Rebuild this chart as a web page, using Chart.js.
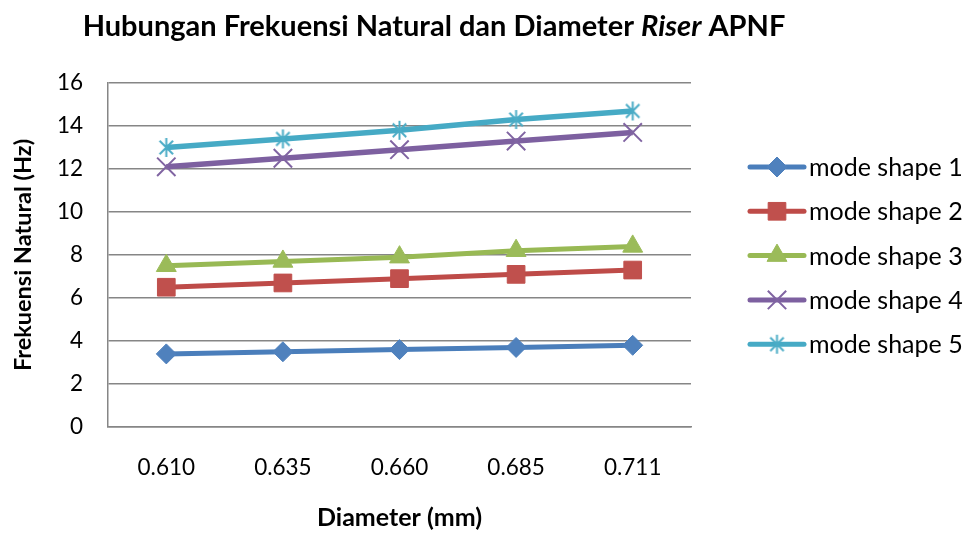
<!DOCTYPE html>
<html>
<head>
<meta charset="utf-8">
<title>Hubungan Frekuensi Natural dan Diameter Riser APNF</title>
<script src="https://cdn.jsdelivr.net/npm/chart.js@4.4.1/dist/chart.umd.min.js"></script>
<style>
  html, body { margin: 0; padding: 0; background: #ffffff; }
  #wrap { width: 966px; height: 533px; position: relative; }
</style>
</head>
<body>
<div id="wrap"><canvas id="chart" width="966" height="533"></canvas></div>
<script>
// Riser diameter categories (mm)
const diameters = ['0.610', '0.635', '0.660', '0.685', '0.711'];

// Natural frequency (Hz) for each mode shape
const mode1 = [3.4, 3.5, 3.6, 3.7, 3.8];
const mode2 = [6.5, 6.7, 6.9, 7.1, 7.3];
const mode3 = [7.5, 7.7, 7.9, 8.2, 8.4];
const mode4 = [12.1, 12.5, 12.9, 13.3, 13.7];
const mode5 = [13.0, 13.4, 13.8, 14.3, 14.7];

const seriesNames = ['mode shape 1', 'mode shape 2', 'mode shape 3', 'mode shape 4', 'mode shape 5'];

// Frequency axis range
const yMin = 0;
const yMax = 16;
const yStep = 2;

const FONT = "Lato, 'Open Sans', 'Liberation Sans', sans-serif";

// Asterisk-style marker: an X with a vertical stroke through it
function starMarker(color, size, width) {
  const c = document.createElement('canvas');
  c.width = size; c.height = size;
  const g = c.getContext('2d');
  g.strokeStyle = color;
  g.lineWidth = width;
  const m = size / 2, r = size / 2 - 1;
  const d = r * Math.SQRT1_2;
  g.beginPath();
  g.moveTo(m - d, m - d); g.lineTo(m + d, m + d);
  g.moveTo(m + d, m - d); g.lineTo(m - d, m + d);
  g.moveTo(m, m - r); g.lineTo(m, m + r);
  g.stroke();
  return c;
}

const styles = [
  { line: '#4A7EBB', point: '#4F81BD', pointStyle: 'rectRot', radius: 10, pbw: 1 },
  { line: '#BE4B48', point: '#C0504D', pointStyle: 'rect', radius: 12.5, pbw: 1 },
  { line: '#98B954', point: '#9BBB59', pointStyle: 'triangle', radius: 11.5, pbw: 1 },
  { line: '#7D60A0', point: '#8064A2', pointStyle: 'crossRot', radius: 13, pbw: 2 },
  { line: '#46AAC5', point: '#4BACC6', pointStyle: starMarker('#4BACC6', 21, 2), radius: 10, pbw: 2 }
];

const seriesValues = [mode1, mode2, mode3, mode4, mode5];

const datasets = seriesValues.map((vals, i) => ({
  label: seriesNames[i],
  data: vals,
  borderColor: styles[i].line,
  backgroundColor: styles[i].point,
  borderWidth: i >= 3 ? 5.5 : 5,
  pointStyle: styles[i].pointStyle,
  pointRadius: styles[i].radius,
  pointHoverRadius: styles[i].radius,
  pointBackgroundColor: styles[i].point,
  pointBorderColor: styles[i].point,
  pointBorderWidth: styles[i].pbw,
  tension: 0,
  fill: false,
  order: seriesValues.length - 1 - i
}));

// Title with the italic word, drawn onto the canvas
const titlePlugin = {
  id: 'mixedTitle',
  afterDraw(chart) {
    const ctx = chart.ctx;
    const size = 29;
    const parts = [
      { t: 'Hubungan Frekuensi Natural dan Diameter ', f: 'bold ' + size + 'px ' + FONT },
      { t: 'Riser', f: 'italic bold ' + size + 'px ' + FONT },
      { t: ' APNF', f: 'bold ' + size + 'px ' + FONT }
    ];
    ctx.save();
    let total = 0;
    parts.forEach(p => { ctx.font = p.f; p.w = ctx.measureText(p.t).width; total += p.w; });
    let x = 434 - total / 2;
    ctx.fillStyle = '#000000';
    ctx.textBaseline = 'alphabetic';
    parts.forEach(p => { ctx.font = p.f; ctx.fillText(p.t, x, 36); x += p.w; });
    ctx.restore();
  }
};

// Legend: line sample with marker, then label
const legendPlugin = {
  id: 'lineLegend',
  afterDraw(chart) {
    const ctx = chart.ctx;
    const x0 = 750, x1 = 804, xm = 777, tx = 809;
    const y0 = 167, dy = 44.3;
    ctx.save();
    chart.data.datasets.forEach((ds, i) => {
      const y = y0 + i * dy;
      ctx.strokeStyle = ds.borderColor;
      ctx.lineWidth = 5;
      ctx.lineCap = 'round';
      ctx.beginPath();
      ctx.moveTo(x0, y); ctx.lineTo(x1, y);
      ctx.stroke();
      ctx.lineCap = 'butt';
      ctx.fillStyle = ds.pointBackgroundColor;
      ctx.strokeStyle = ds.pointBorderColor;
      ctx.lineWidth = ds.pointBorderWidth;
      Chart.helpers.drawPoint(ctx, {
        pointStyle: ds.pointStyle,
        rotation: 0,
        radius: ds.pointRadius,
        borderWidth: ds.pointBorderWidth
      }, xm, y);
      ctx.fillStyle = '#000000';
      ctx.font = '25px ' + FONT;
      ctx.textBaseline = 'middle';
      ctx.textAlign = 'left';
      ctx.fillText(ds.label, tx, y + 1);
    });
    ctx.restore();
  }
};

new Chart(document.getElementById('chart'), {
  type: 'line',
  data: { labels: diameters, datasets: datasets },
  plugins: [titlePlugin, legendPlugin],
  options: {
    responsive: false,
    animation: false,
    events: [],
    layout: { padding: { left: 0, top: 83, right: 275, bottom: 0 } },
    plugins: {
      legend: { display: false },
      title: { display: false },
      tooltip: { enabled: false }
    },
    scales: {
      x: {
        type: 'category',
        offset: true,
        grid: { display: false, drawTicks: false, tickLength: 0 },
        border: { display: true, color: '#868686', width: 1.5 },
        ticks: { color: '#000000', font: { family: FONT, size: 22.5 }, padding: 27, maxRotation: 0 },
        title: {
          display: true,
          text: 'Diameter (mm)',
          color: '#000000',
          font: { family: FONT, size: 25, weight: 'bold' },
          padding: { top: 0, bottom: 0 }
        },
        afterFit(scale) { scale.height = 106; }
      },
      y: {
        min: yMin,
        max: yMax,
        ticks: { stepSize: yStep, color: '#000000', font: { family: FONT, size: 22.5 }, padding: 25 },
        grid: { color: '#868686', lineWidth: 1.5, drawTicks: false, tickLength: 0 },
        border: { display: true, color: '#868686', width: 1.5 },
        title: {
          display: true,
          text: 'Frekuensi Natural (Hz)',
          color: '#000000',
          font: { family: FONT, size: 23.5, weight: 'bold' },
          padding: { top: 9, bottom: 0 }
        },
        afterFit(scale) { scale.width = 108; }
      }
    }
  }
});
</script>
</body>
</html>
